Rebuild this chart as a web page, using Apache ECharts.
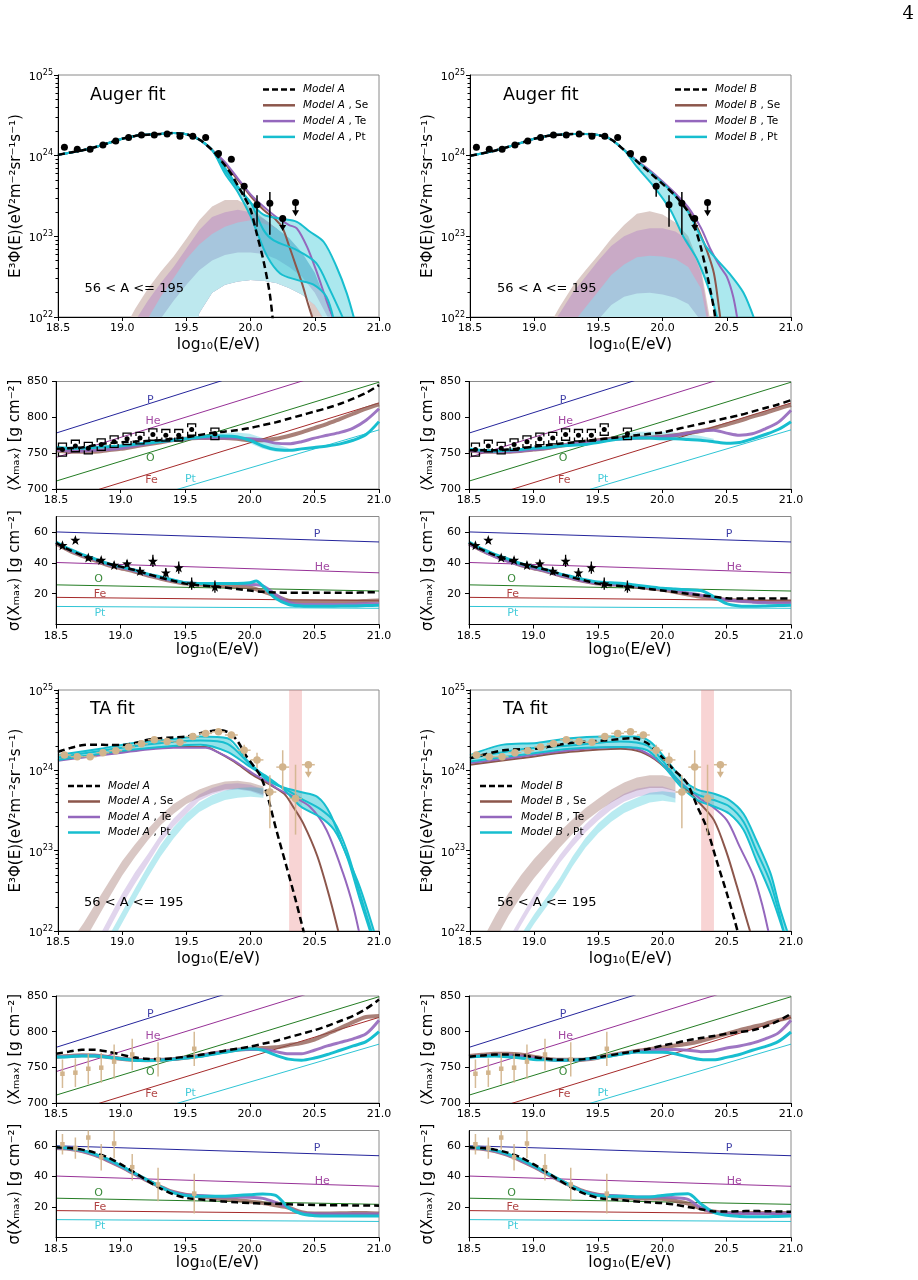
<!DOCTYPE html>
<html><head><meta charset="utf-8">
<script src="https://cdn.jsdelivr.net/npm/echarts@6/dist/echarts.min.js"></script>
<style>html,body{margin:0;padding:0;background:#fff}#c{width:918px;height:1280px}</style>
</head><body><div id="c"></div>
<script>
// ---------------- ticks ----------------
const xTickValues = [18.5,19.0,19.5,20.0,20.5,21.0];
const xTickLabels = ['18.5','19.0','19.5','20.0','20.5','21.0'];
const specTickValues = [1e22,1e23,1e24,1e25];
const specTickExp = ['22','23','24','25'];
const specMinorTicks = [2e22,3e22,4e22,5e22,6e22,7e22,8e22,9e22,2e23,3e23,4e23,5e23,6e23,7e23,8e23,9e23,2e24,3e24,4e24,5e24,6e24,7e24,8e24,9e24];
const xmaxTickValues = [700,750,800,850];
const sigmaTickValues = [20,40,60];

// ---------------- common x grid for Xmax / sigma models ----------------
const XS = [18.5,18.6,18.7,18.8,18.9,19.0,19.1,19.2,19.3,19.4,19.5,19.6,19.7,19.8,19.9,20.0,20.1,20.2,20.3,20.4,20.5,20.6,20.7,20.8,20.9,21.0];

// ---------------- Auger spectrum data (log10 of E^3 Phi) ----------------
const augSpec_x = [18.55,18.65,18.75,18.85,18.95,19.05,19.15,19.25,19.35,19.45,19.55,19.65,19.75,19.85,19.95,20.05,20.15,20.25,20.35];
const augSpec_y = [24.104,24.08,24.08,24.133,24.183,24.224,24.257,24.257,24.27,24.24,24.24,24.224,24.026,23.956,23.62,23.39,23.41,23.22,23.42];
const augSpecErr_x = [19.95,20.05,20.15];
const augSpecErr_lo = [23.49,23.12,23.02];
const augSpecErr_hi = [23.66,23.51,23.55];
const augUL_x = [20.25,20.35];
const augUL_from = [23.22,23.42];
const augUL_to = [23.08,23.26];

// Auger fit, model A spectrum curves
const augX_lo = [18.5,18.6,18.7,18.8,18.9,19.0,19.1,19.2,19.3,19.4,19.5,19.6,19.7];
const augA_common = [24.01,24.04,24.07,24.11,24.16,24.21,24.245,24.26,24.27,24.28,24.265,24.2,24.07];
const augA_dash_x = [19.8,19.85,19.9,19.95,20.0,20.05,20.1,20.15,20.18];
const augA_dash_y = [23.88,23.77,23.63,23.49,23.33,23.02,22.7,22.28,21.85];
const augA_se_x = [19.8,19.9,20.0,20.1,20.2,20.25,20.3,20.35,20.4,20.45,20.5];
const augA_se_y = [23.9,23.7,23.5,23.33,23.2,23.1,22.88,22.65,22.42,22.15,21.9];
const augA_te_x = [19.8,19.9,20.0,20.1,20.2,20.3,20.36,20.44,20.51,20.59,20.66];
const augA_te_y = [23.92,23.72,23.52,23.37,23.24,23.14,23.1,22.87,22.58,22.21,21.9];
const augA_pt1_x = [19.8,19.9,20.0,20.1,20.23,20.36,20.46,20.57,20.67,20.75,20.82];
const augA_pt1_y = [23.85,23.62,23.42,23.27,23.22,23.18,23.06,22.93,22.62,22.29,21.9];
const augA_pt2_x = [19.8,19.9,20.0,20.1,20.18,20.36,20.51,20.62,20.73];
const augA_pt2_y = [23.82,23.6,23.42,23.08,22.95,22.83,22.67,22.33,21.95];
const augA_pt3_x = [19.8,19.9,20.0,20.05,20.13,20.23,20.36,20.49,20.59,20.65];
const augA_pt3_y = [23.78,23.55,23.25,23.05,22.75,22.54,22.46,22.4,22.25,21.95];
// Auger fit, model A mass-group contribution bands
const augA_band_x = [19.0,19.1,19.2,19.3,19.4,19.5,19.6,19.7,19.8,19.9,20.0,20.1,20.2,20.3,20.4,20.5,20.6,20.7];
const augA_band_se = [21.8,22.1,22.35,22.56,22.75,22.97,23.2,23.37,23.45,23.45,23.36,23.22,23.1,22.9,22.55,21.9,21.5,21.5];
const augA_band_te = [21.6,21.95,22.2,22.42,22.62,22.85,23.08,23.24,23.3,23.33,23.3,23.22,23.1,22.92,22.7,22.4,22.0,21.5];
const augA_band_pt = [21.4,21.7,21.98,22.25,22.48,22.72,22.9,23.03,23.12,23.17,23.2,23.16,23.1,22.98,22.8,22.55,22.15,21.6];
const augA_band_lt = [21.2,21.5,21.75,21.98,22.2,22.4,22.58,22.7,22.77,22.8,22.8,22.78,22.72,22.62,22.5,22.3,22.0,21.5];
const augA_band_lo = [21.0,21.0,21.0,21.0,21.0,21.3,22.05,22.3,22.4,22.44,22.46,22.45,22.42,22.36,22.28,22.15,21.9,21.4];

// Auger fit, model B spectrum curves
const augB_common = [24.0,24.03,24.065,24.11,24.16,24.21,24.245,24.26,24.27,24.27,24.255,24.2,24.07];
const augB_dash_x = [19.8,19.9,20.0,20.1,20.2,20.25,20.3,20.35,20.4,20.42];
const augB_dash_y = [23.93,23.79,23.65,23.5,23.3,23.12,22.85,22.5,22.1,21.85];
const augB_se_x = [19.8,19.9,20.0,20.1,20.2,20.29,20.35,20.4,20.44,20.46];
const augB_se_y = [23.93,23.8,23.66,23.52,23.33,23.04,22.8,22.54,22.1,21.85];
const augB_te_x = [19.8,19.9,20.0,20.1,20.2,20.3,20.37,20.45,20.5,20.55,20.59];
const augB_te_y = [23.94,23.82,23.68,23.53,23.36,23.1,22.85,22.62,22.5,22.25,21.9];
const augB_pt1_x = [19.8,19.9,20.0,20.1,20.2,20.28,20.34,20.43,20.52,20.63,20.72];
const augB_pt1_y = [23.93,23.8,23.66,23.5,23.3,23.05,22.87,22.7,22.54,22.3,21.95];
const augB_pt2_x = [19.8,19.93,20.06,20.16,20.27,20.37,20.44];
const augB_pt2_y = [23.86,23.62,23.33,23.0,22.71,22.3,21.9];
const augB_band_x = [19.1,19.2,19.3,19.4,19.5,19.6,19.7,19.8,19.9,20.0,20.1,20.2,20.3,20.4];
const augB_band_se = [21.85,22.13,22.38,22.58,22.77,22.97,23.14,23.28,23.31,23.27,23.17,23.0,22.6,21.7];
const augB_band_te = [21.8,22.05,22.3,22.5,22.7,22.88,23.0,23.07,23.1,23.1,23.06,22.95,22.55,21.6];
const augB_band_pt = [21.5,21.7,21.92,22.12,22.32,22.52,22.65,22.74,22.76,22.75,22.72,22.62,22.35,21.5];
const augB_band_lt = [21.3,21.45,21.6,21.8,21.97,22.15,22.25,22.29,22.3,22.28,22.24,22.16,21.95,21.4];
const augB_band_lo = [21,21,21,21,21,21,21,21,21,21,21,21,21,21];

// ---------------- Auger Xmax / sigma data ----------------
const augXmax_x = [18.55,18.65,18.75,18.85,18.95,19.05,19.15,19.25,19.35,19.45,19.55,19.73];
const augXmax_y = [755,760,757,762,766,770,771,776,775,775,783,777];
const augXmax_stat = [2,2,2,2,2,2,2,2.5,2.5,3,3,3];
const augXmax_sys = [9,8,8,8,8,8,8,8,8,8,8,8];
const augSig_y = [51.4,54.8,43.4,41.8,38.6,39.5,34.7,41.2,33.6,36.9,26.5,24.5];
const augSig_err = [1.8,1.8,1.8,1.8,2,2.2,2.5,4,3,4,4,4];

const xmaxA_dash = [756,757,758,761,764,765,766,767,768,770,772,775,778,780,782,785,789,793,798,803,808,813,819,826,834,845];
const xmaxA_se = [754,752,752,752,754,756,759,762,765,768,770,771,771,771,770,768,768,770,774,779,785,791,798,805,812,818];
const xmaxA_te = [755,753,753,754,755,757,760,763,766,768,770,771,771,771,771,770,768,764,763,766,771,775,779,785,796,812];
const xmaxA_pt = [758,757,757,758,759,760,762,764,766,768,770,772,774,774,773,768,760,755,754,756,758,760,763,768,776,794];
const xmaxA_ptband_x = [19.7,19.8,19.9,20.0,20.1,20.2,20.3];
const xmaxA_ptband_lo = [772,772,770,764,756,752,752];
const xmaxA_ptband_hi = [776,778,779,777,771,763,757];

const xmaxB_dash = [754,754,754,755,757,759,761,763,765,767,769,771,773,775,777,779,783,787,791,795,799,803,808,813,818,824];
const xmaxB_se = [754,752,752,752,753,755,757,760,763,766,768,770,771,772,772,773,775,778,781,785,790,795,801,806,812,817];
const xmaxB_te = [754,752,752,752,753,755,757,760,763,765,767,769,770,771,772,773,775,778,781,782,778,775,777,784,793,810];
const xmaxB_pt = [756,754,753,754,755,757,758,760,761,762,765,768,770,771,771,770,770,769,768,766,764,765,770,776,783,794];
const xmaxB_ptband_x = [19.6,19.7,19.8,19.9,20.0,20.1,20.2,20.3,20.4];
const xmaxB_ptband_lo = [768,770,771,771,770,770,769,768,766];
const xmaxB_ptband_hi = [772,777,780,780,780,779,777,774,770];

const sigA_dash = [53,48.5,45,42,39.5,37.5,35.5,33,30.5,28.5,26.5,25.5,24.8,24,23,22,21.2,20.8,20.5,20.5,20.5,20.5,20.5,20.6,20.8,21];
const sigA_se = [52.5,48,44.5,41.5,38.5,36.5,34.5,32,30,28,26.5,26,25.5,25,24.5,24,21.5,18.5,15.5,15,15,15,15,15,15.2,15.5];
const sigA_te = [53,48.5,45,42,39,37,35,32.5,30.5,28.5,27,26.5,26.5,26.5,26.5,26,25,19.5,14.5,13,13,13,13,13.2,13.5,13.5];
const sigA_pt_x = [18.5,18.6,18.7,18.8,18.9,19.0,19.1,19.2,19.3,19.4,19.5,19.6,19.7,19.8,19.9,20.0,20.05,20.1,20.2,20.3,20.4,20.5,20.6,20.7,20.8,20.9,21.0];
const sigA_pt = [53.5,49,45.5,42.5,39.5,37.5,35.5,33,31,29,27,26.5,26.5,26.5,26.5,27,28.2,25,17,13,12,11.8,11.8,12,12,12.3,12.5];

const sigB_dash = [53,48.5,45,42,39.5,37.5,35.5,33,30.5,28.5,26.5,25.5,24.8,24,23,22,21,20,19,18,17,16.8,16.8,16.8,16.8,16.8];
const sigB_se = [52.5,48,44.5,41.5,38.5,36.5,34.5,32,30,28,26.5,26,25.5,24.5,23.5,22.5,21,19.5,18,17,16,15.5,15.2,15,15,15];
const sigB_te = [52,48,44,41,38.5,36.5,34.5,32,30,28,26.5,26,25.5,25,24,23,22,20.5,19,17.5,16,15,14.5,14.2,14,14];
const sigB_pt = [53.5,49,45.5,42.5,39.5,37.5,35.5,33,31,29,27.5,27,26.5,25.5,24.5,23.5,23,22.5,22,18,13.5,12,11.8,12,12.3,12.5];

// ---------------- TA spectrum data ----------------
const taSpec_x = [18.55,18.65,18.75,18.85,18.95,19.05,19.15,19.25,19.35,19.45,19.55,19.65,19.75,19.85,19.95,20.05,20.15,20.25,20.35,20.45];
const taSpec_y = [24.19,24.17,24.17,24.22,24.245,24.29,24.33,24.38,24.36,24.35,24.42,24.46,24.48,24.44,24.25,24.13,23.73,24.04,23.65,24.07];
const taSpec_lo = [24.17,24.15,24.15,24.2,24.22,24.27,24.31,24.36,24.34,24.32,24.39,24.43,24.45,24.4,24.17,24.03,23.28,23.75,23.2,24.07];
const taSpec_hi = [24.21,24.19,24.19,24.24,24.27,24.31,24.35,24.4,24.38,24.38,24.45,24.49,24.51,24.48,24.32,24.22,23.94,24.25,24.07,24.07];
const taSpec_xerr = 0.05;
const taUL_x = [20.45];
const taUL_from = [24.07];
const taUL_to = [23.92];
const taShade = [20.3, 20.4];

// TA fit, model A
const taA_dash_x = [18.5,18.6,18.7,18.8,18.9,19.0,19.1,19.2,19.3,19.4,19.5,19.6,19.7,19.75,19.8,19.85,19.9,19.97,20.03,20.08,20.13,20.2,20.28,20.35,20.42];
const taA_dash_y = [24.23,24.28,24.315,24.32,24.315,24.315,24.34,24.38,24.4,24.41,24.42,24.46,24.49,24.5,24.49,24.45,24.36,24.17,24.04,23.92,23.69,23.26,22.8,22.39,21.95];
const taA_se_x = [18.5,18.7,18.9,19.0,19.2,19.4,19.6,19.65,19.74,19.87,20.02,20.13,20.26,20.33,20.41,20.52,20.62,20.69];
const taA_se_y = [24.13,24.17,24.21,24.23,24.27,24.29,24.29,24.29,24.23,24.11,23.94,23.84,23.71,23.55,23.34,22.93,22.39,21.95];
const taA_te_x = [18.5,18.7,18.9,19.0,19.2,19.4,19.6,19.65,19.74,19.87,20.02,20.13,20.2,20.31,20.46,20.59,20.72,20.8,20.85];
const taA_te_y = [24.12,24.16,24.2,24.22,24.26,24.28,24.28,24.28,24.23,24.12,23.96,23.86,23.78,23.69,23.55,23.26,22.72,22.3,21.95];
const taA_pt1_x = [18.5,18.83,19.09,19.35,19.61,19.82,19.97,20.1,20.2,20.39,20.52,20.62,20.72,20.85,20.97];
const taA_pt1_y = [24.19,24.27,24.34,24.38,24.42,24.4,24.13,23.94,23.82,23.73,23.67,23.46,23.05,22.55,21.95];
const taA_pt2_x = [18.5,19.09,19.61,19.82,19.99,20.13,20.26,20.39,20.54,20.65,20.75,20.85,20.95];
const taA_pt2_y = [24.16,24.3,24.37,24.33,24.08,23.88,23.78,23.65,23.52,23.36,23.0,22.47,21.95];
const taA_pt3_x = [18.5,19.09,19.61,19.82,19.99,20.13,20.26,20.39,20.54,20.65,20.75,20.85,20.94];
const taA_pt3_y = [24.13,24.26,24.32,24.23,24.05,23.92,23.76,23.55,23.42,23.26,22.93,22.4,21.95];
const taA_rse_x = [18.6,18.7,18.8,18.9,19.0,19.1,19.2,19.3,19.4,19.5,19.6,19.7,19.8,19.9,20.0,20.1];
const taA_rse_hi = [21.87,22.1,22.36,22.62,22.87,23.08,23.27,23.44,23.58,23.68,23.76,23.82,23.86,23.87,23.85,23.8];
const taA_rse_lo = [21.63,21.86,22.14,22.42,22.69,22.92,23.13,23.32,23.46,23.58,23.66,23.72,23.76,23.77,23.75,23.7];
const taA_rte_x = [18.8,18.9,19.0,19.1,19.2,19.3,19.4,19.5,19.6,19.7,19.8,19.9,20.0,20.1];
const taA_rte_hi = [21.87,22.17,22.47,22.73,22.96,23.2,23.4,23.56,23.7,23.78,23.83,23.84,23.82,23.76];
const taA_rte_lo = [21.73,22.03,22.33,22.59,22.84,23.1,23.3,23.46,23.62,23.7,23.75,23.76,23.74,23.68];
const taA_rpt_x = [18.9,19.0,19.1,19.2,19.3,19.4,19.5,19.6,19.7,19.8,19.9,20.0,20.1];
const taA_rpt_hi = [21.95,22.24,22.53,22.81,23.07,23.29,23.46,23.6,23.69,23.75,23.78,23.79,23.78];
const taA_rpt_lo = [21.81,22.1,22.39,22.67,22.93,23.15,23.34,23.48,23.57,23.63,23.66,23.67,23.66];

// TA fit, model B
const taB_dash_x = [18.5,18.76,19.02,19.28,19.54,19.77,19.88,19.98,20.08,20.19,20.27,20.34,20.42,20.5,20.56,20.6];
const taB_dash_y = [24.15,24.25,24.27,24.34,24.37,24.4,24.34,24.19,24.02,23.84,23.55,23.3,22.88,22.47,22.14,21.9];
const taB_se_x = [18.5,18.89,19.28,19.67,19.83,19.98,20.14,20.29,20.4,20.5,20.58,20.64,20.69];
const taB_se_y = [24.07,24.15,24.23,24.27,24.23,24.09,23.84,23.59,23.38,22.97,22.55,22.22,21.95];
const taB_te_x = [18.5,18.89,19.28,19.67,19.83,19.98,20.14,20.29,20.37,20.5,20.6,20.71,20.78,20.83];
const taB_te_y = [24.09,24.17,24.25,24.29,24.25,24.1,23.85,23.65,23.57,23.38,23.05,22.68,22.3,21.95];
const taB_pt1_x = [18.5,18.76,19.02,19.28,19.54,19.77,19.9,20.03,20.16,20.27,20.4,20.52,20.63,20.73,20.84,20.91,20.98];
const taB_pt1_y = [24.19,24.32,24.34,24.4,24.42,24.42,24.36,24.13,23.88,23.76,23.71,23.63,23.46,23.13,22.72,22.3,21.95];
const taB_pt2_x = [18.5,18.89,19.28,19.67,19.88,20.01,20.14,20.27,20.4,20.52,20.63,20.73,20.84,20.95];
const taB_pt2_y = [24.15,24.26,24.31,24.36,24.31,24.1,23.84,23.7,23.63,23.55,23.36,23.0,22.6,21.95];
const taB_pt3_y = [24.11,24.19,24.27,24.29,24.25,24.05,23.8,23.63,23.55,23.46,23.26,22.88,22.47,21.95];
const taB_rse_x = [18.6,18.7,18.8,18.9,19.0,19.1,19.2,19.3,19.4,19.5,19.6,19.7,19.8,19.9,20.0,20.1];
const taB_rse_hi = [21.9,22.2,22.47,22.7,22.9,23.07,23.24,23.39,23.53,23.65,23.76,23.85,23.91,23.94,23.94,23.9];
const taB_rse_lo = [21.6,21.9,22.19,22.44,22.66,22.85,23.04,23.21,23.37,23.49,23.6,23.69,23.75,23.78,23.78,23.74];
const taB_rte_x = [18.8,18.9,19.0,19.1,19.2,19.3,19.4,19.5,19.6,19.7,19.8,19.9,20.0,20.1];
const taB_rte_hi = [21.9,22.18,22.45,22.71,22.95,23.15,23.33,23.48,23.61,23.71,23.77,23.8,23.8,23.75];
const taB_rte_lo = [21.8,22.08,22.35,22.61,22.85,23.05,23.23,23.38,23.51,23.61,23.67,23.7,23.7,23.65];
const taB_rpt_x = [18.9,19.0,19.1,19.2,19.3,19.4,19.5,19.6,19.7,19.8,19.9,20.0,20.1];
const taB_rpt_hi = [21.96,22.21,22.43,22.66,22.93,23.16,23.34,23.48,23.59,23.66,23.72,23.74,23.72];
const taB_rpt_lo = [21.84,22.09,22.31,22.54,22.81,23.04,23.22,23.36,23.47,23.54,23.6,23.62,23.6];

// ---------------- TA Xmax / sigma ----------------
const taXmax_x = [18.55,18.65,18.75,18.85,18.95,19.09,19.29,19.57];
const taXmax_y = [741,742.5,748,749.5,758,768,761,776];
const taXmax_err = [20,20,22,21,24,22,24,24];
const taSig_y = [61,58.5,65.4,52.5,61.5,46,34.7,28.7];
const taSig_err = [6.7,7,8,8.6,9.7,8.7,11,13];

const xmaxTA_A_dash = [769,772,774.5,774.5,772,768,764,762,761.5,762.5,765,767,770,773,776,779,783,787,792,797,802,808,815,822,832,845];
const xmaxTA_A_se = [765,766,767,766.5,764.5,762,760.5,760,760.5,761.5,763.5,766,769,772,774.5,776,777,778,781,784,789,797,805,813.5,820.5,822];
const xmaxTA_A_te = [765,765.5,766.5,766.5,764.5,762,760.5,760,760.5,761.5,763.5,766,769,772,774.5,775,775,772,769,769,774,780,785,790,797,816];
const xmaxTA_A_pt = [764.5,765,766,766,764,762,760,759.5,760,761,763,765,768,771,774,776,774,767,761.5,760,763,768,774,780,786,800];
const xmaxTA_B_dash = [765,766.5,768,768,767,764.5,762,760.5,760.5,761.5,764,767,770,773,776,780.5,784,788,791,794,797,799.5,802,807,815,825];
const xmaxTA_B_se = [766,767.5,769,769,768,765,762,760.5,760.5,761,763.5,767,770,773,775.5,778,780.5,783,787,792,797,802,806.5,811,816,820.5];
const xmaxTA_B_te = [765,766,767,767,765.5,763,761,760,760,761,763.5,766.5,769.5,772,774,775,775,774,772,773,777,780,784,790,798,816];
const xmaxTA_B_pt = [764.5,765.5,766,765,763,761,760.5,760,760,761.5,763.5,766,769,771.5,771,771,769,764.5,761,760.5,764,768,774,779,786,799.5];

const sigTA_A_dash = [59,58.5,57.5,55.5,52.5,48,43,37.5,32.5,28.5,26,25,24.3,23.5,23,22.5,22.2,22,21.7,21.5,21.3,21.2,21.1,21,21,20.8];
const sigTA_A_se = [58.5,58,56.5,54,50.5,46.5,42,37.5,33.5,30,28,27,26,25,24.5,23.5,22.5,21,19.5,16.5,15.7,15.7,15.8,16,16.1,15.7];
const sigTA_A_te = [58.5,58,56.5,54,50.5,46.5,42,37.5,33.5,30,28,27.5,27,26.5,26.5,26.4,25.6,23,19.5,16,15.5,15.3,15.3,15.3,15.3,15.3];
const sigTA_A_pt = [59,58.3,57,54.5,51.2,47,42.5,38,33.5,29.5,27.5,27,27,27,27.5,28,28.5,27.5,19.5,15.5,14.3,14,14,14,14,14];
const sigTA_B_dash = [59,58.5,57.5,55.5,52.5,48,43,37.5,32.5,28.5,26,25,24.3,23.5,23,22.5,21.5,20,18.5,17,17,17.2,17.3,17.2,17,16.8];
const sigTA_B_se = [58.5,58,56.5,54,50.5,46.5,42,37.5,33.5,30,28,27,26,25.5,25.5,25.4,24,22.2,19,17,16.1,16.1,16.1,16.1,16.1,16.1];
const sigTA_B_te = [58.5,58,56.5,54,50.5,46.5,42,37.5,33.5,30,28,27.5,27,26.5,26.5,26.5,26,25,19.5,16.5,16,15.8,15.7,15.7,15.7,15.7];
const sigTA_B_pt = [59,58.3,57,54.5,51.2,47,42.5,38,33.5,29.5,27.5,27,27,26.5,26.5,27.5,28.3,28.6,22,16.5,14.5,13.8,13.5,13.5,13.8,14];

// ---------------- reference mass lines ----------------
const refNames = ['P','He','O','Fe','Pt'];
const refColors = ['#0c0c90','#8b1a8b','#0b6e0b','#9b1212','#17becf'];
const refX = [18.5, 21.0];
const xmaxRef = [[778,920.5],[744,884],[711,849],[681,820],[649.6,782.5]];
const sigRef = [[60,53.5],[40.2,33.5],[25.7,21.7],[17.6,15.4],[11.7,10.5]];
const xmaxRefLabel_x = [19.23,19.25,19.23,19.24,19.54];
const xmaxRefLabel_y = [824,794,743,712,714];
const sigRefLabel_x = [20.52,20.56,18.83,18.84,18.84];
const sigRefLabel_y = [58.5,36.9,29.3,19.6,7.2];

// ======================================================================
const FONT = "DejaVu Sans";
const C = {se:'#8c564b', te:'#9467bd', pt:'#17becf', tan:'#d2b48c'};
const P10 = v => Math.pow(10, v);
const ID = v => v;

const GRIDS = [
 {left:58, top:75, width:321, height:242, kind:'spec'},
 {left:470, top:75, width:321, height:242, kind:'spec'},
 {left:56, top:381.5, width:323, height:107.5, kind:'xmax'},
 {left:469, top:381.5, width:322, height:107.5, kind:'xmax'},
 {left:56, top:516.5, width:323, height:108, kind:'sigma'},
 {left:469, top:516.5, width:322, height:108, kind:'sigma'},
 {left:58, top:690, width:321, height:241, kind:'spec'},
 {left:470, top:690, width:321, height:241, kind:'spec'},
 {left:56, top:996, width:323, height:107, kind:'xmax'},
 {left:469, top:996, width:322, height:107, kind:'xmax'},
 {left:56, top:1130.5, width:323, height:107, kind:'sigma'},
 {left:469, top:1130.5, width:322, height:107, kind:'sigma'}
];

const series = [];
function fOf(gi){ return GRIDS[gi].kind==='spec' ? P10 : ID; }
function anchorOf(gi){ const k=GRIDS[gi].kind; return k==='spec'?[19.5,1e23]:(k==='xmax'?[19.5,775]:[19.5,30]); }

function addLine(gi, xs, ys, style, z, smooth){
  const f=fOf(gi);
  series.push({type:'line', xAxisIndex:gi, yAxisIndex:gi, data:xs.map((x,i)=>[x,f(ys[i])]),
    symbol:'none', smooth: smooth===undefined?0.3:smooth, lineStyle:Object.assign({cap:'butt', join:'round'}, style),
    z:z||3, silent:true, clip:true, animation:false});
}
function addBand(gi, xh, yh, xl, yl, fill, z){
  const f=fOf(gi);
  series.push({type:'custom', coordinateSystem:'cartesian2d', xAxisIndex:gi, yAxisIndex:gi, z:z||1, silent:true, clip:true, animation:false,
    data:[anchorOf(gi)],
    renderItem:(p, api)=>{
      const pts=[];
      for(let i=0;i<xh.length;i++) pts.push(api.coord([xh[i], f(yh[i])]));
      for(let i=xl.length-1;i>=0;i--) pts.push(api.coord([xl[i], f(yl[i])]));
      return {type:'polygon', shape:{points:pts}, style:{fill:fill}};
    }});
}
function addVErr(gi, xs, lo, hi, color, width, z){
  const f=fOf(gi);
  series.push({type:'custom', coordinateSystem:'cartesian2d', xAxisIndex:gi, yAxisIndex:gi, z:z||6, silent:true, clip:true, animation:false,
    data:xs.map((x,i)=>[x,f(lo[i]),f(hi[i])]), encode:{x:0,y:[1,2]},
    renderItem:(p, api)=>{
      const a=api.coord([api.value(0),api.value(1)]), b=api.coord([api.value(0),api.value(2)]);
      return {type:'line', shape:{x1:a[0],y1:a[1],x2:b[0],y2:b[1]}, style:{stroke:color, lineWidth:width}};
    }});
}
function addHErr(gi, xs, ys, dx, color, width, z){
  const f=fOf(gi);
  series.push({type:'custom', coordinateSystem:'cartesian2d', xAxisIndex:gi, yAxisIndex:gi, z:z||6, silent:true, clip:true, animation:false,
    data:xs.map((x,i)=>[x-dx,x+dx,f(ys[i])]), encode:{x:[0,1],y:2},
    renderItem:(p, api)=>{
      const a=api.coord([api.value(0),api.value(2)]), b=api.coord([api.value(1),api.value(2)]);
      return {type:'line', shape:{x1:a[0],y1:a[1],x2:b[0],y2:b[1]}, style:{stroke:color, lineWidth:width}};
    }});
}
function addArrows(gi, xs, from, to, color, z){
  const f=fOf(gi);
  series.push({type:'custom', coordinateSystem:'cartesian2d', xAxisIndex:gi, yAxisIndex:gi, z:z||6, silent:true, clip:true, animation:false,
    data:xs.map((x,i)=>[x,f(from[i]),f(to[i])]), encode:{x:0,y:[1,2]},
    renderItem:(p, api)=>{
      const a=api.coord([api.value(0),api.value(1)]), b=api.coord([api.value(0),api.value(2)]);
      return {type:'group', children:[
        {type:'line', shape:{x1:a[0],y1:a[1],x2:b[0],y2:b[1]-3}, style:{stroke:color, lineWidth:1.5}},
        {type:'polygon', shape:{points:[[b[0]-3.5,b[1]-5],[b[0]+3.5,b[1]-5],[b[0],b[1]+1]]}, style:{fill:color}}
      ]};
    }});
}
function addBrackets(gi, xs, ys, sys, color, z){
  series.push({type:'custom', coordinateSystem:'cartesian2d', xAxisIndex:gi, yAxisIndex:gi, z:z||6, silent:true, clip:true, animation:false,
    data:xs.map((x,i)=>[x, ys[i]+sys[i], ys[i]-sys[i]]), encode:{x:0,y:[1,2]},
    renderItem:(p, api)=>{
      const a=api.coord([api.value(0),api.value(1)]), b=api.coord([api.value(0),api.value(2)]);
      const w=4, t=3.5;
      return {type:'group', children:[
        {type:'polyline', shape:{points:[[a[0]-w,a[1]+t],[a[0]-w,a[1]],[a[0]+w,a[1]],[a[0]+w,a[1]+t]]}, style:{stroke:color, lineWidth:1.3, fill:null}},
        {type:'polyline', shape:{points:[[b[0]-w,b[1]-t],[b[0]-w,b[1]],[b[0]+w,b[1]],[b[0]+w,b[1]-t]]}, style:{stroke:color, lineWidth:1.3, fill:null}}
      ]};
    }});
}
function addScatter(gi, xs, ys, symbol, size, color, z){
  const f=fOf(gi);
  series.push({type:'scatter', xAxisIndex:gi, yAxisIndex:gi, symbol:symbol, symbolSize:size, itemStyle:{color:color, opacity:1},
    data:xs.map((x,i)=>[x,f(ys[i])]), z:z||7, silent:true, animation:false, clip:true});
}
function addRefs(gi, refs, lx, ly){
  refs.forEach((r,k)=>addLine(gi, refX, r, {color:refColors[k], width:1, opacity:0.9}, 2, false));
  series.push({type:'scatter', xAxisIndex:gi, yAxisIndex:gi, symbolSize:2, itemStyle:{color:'rgba(0,0,0,0)'}, z:8, silent:true, animation:false, clip:false,
    data:refNames.map((n,k)=>({name:n, value:[lx[k],ly[k]], label:{show:true, color:refColors[k]}})),
    labelLayout:{hideOverlap:false},
    label:{show:true, position:'inside', formatter:p=>p.name, fontFamily:FONT, fontSize:11}});
}

const dashStyle = {color:'#000', width:2.5, type:[7,4]};
// ---- Auger spectrum panels ----
function augerSpec(gi, common, bands, lines){
  addBand(gi, bands.x, bands.se, bands.x, bands.lo, '#dccbc7', 1);
  addBand(gi, bands.x, bands.te, bands.x, bands.lo, '#c9aac6', 1);
  addBand(gi, bands.x, bands.pt, bands.x, bands.lo, '#a7c6dd', 1);
  addBand(gi, bands.x, bands.lt, bands.x, bands.lo, '#bde8ee', 1);
  const cx = x => augX_lo.concat(x), cy = y => common.concat(y);
  addBand(gi, cx(lines.pt1x), cy(lines.pt1y), cx(lines.pt3x), cy(lines.pt3y), 'rgba(23,190,207,0.36)', 2);
  addLine(gi, cx(lines.sex), cy(lines.sey), {color:C.se, width:2});
  addLine(gi, cx(lines.tex), cy(lines.tey), {color:C.te, width:2});
  addLine(gi, cx(lines.pt1x), cy(lines.pt1y), {color:C.pt, width:2});
  if(lines.pt2x) addLine(gi, cx(lines.pt2x), cy(lines.pt2y), {color:C.pt, width:2});
  addLine(gi, cx(lines.pt3x), cy(lines.pt3y), {color:C.pt, width:2});
  addLine(gi, cx(lines.dx), cy(lines.dy), dashStyle, 4);
  addScatter(gi, augSpec_x, augSpec_y, 'circle', 7, '#000', 7);
  addVErr(gi, augSpecErr_x, augSpecErr_lo, augSpecErr_hi, '#000', 1.5, 6);
  addArrows(gi, augUL_x, augUL_from, augUL_to, '#000', 6);
}
augerSpec(0, augA_common, {x:augA_band_x, se:augA_band_se, te:augA_band_te, pt:augA_band_pt, lt:augA_band_lt, lo:augA_band_lo},
  {dx:augA_dash_x, dy:augA_dash_y, sex:augA_se_x, sey:augA_se_y, tex:augA_te_x, tey:augA_te_y,
   pt1x:augA_pt1_x, pt1y:augA_pt1_y, pt2x:augA_pt2_x, pt2y:augA_pt2_y, pt3x:augA_pt3_x, pt3y:augA_pt3_y});
augerSpec(1, augB_common, {x:augB_band_x, se:augB_band_se, te:augB_band_te, pt:augB_band_pt, lt:augB_band_lt, lo:augB_band_lo},
  {dx:augB_dash_x, dy:augB_dash_y, sex:augB_se_x, sey:augB_se_y, tex:augB_te_x, tey:augB_te_y,
   pt1x:augB_pt1_x, pt1y:augB_pt1_y, pt2x:null, pt2y:null, pt3x:augB_pt2_x, pt3y:augB_pt2_y});

// ---- Xmax / sigma panels ----
function compPanel(gi, refs, lx, ly, d, se, te, pt, ptx, band){
  addRefs(gi, refs, lx, ly);
  if(band) addBand(gi, band.x, band.hi, band.x, band.lo, 'rgba(23,190,207,0.3)', 2);
  addLine(gi, XS, se, {color:C.se, width:4, opacity:0.75});
  addLine(gi, XS, te, {color:C.te, width:3, opacity:0.9});
  addLine(gi, ptx||XS, pt, {color:C.pt, width:3});
  addLine(gi, XS, d, dashStyle, 4);
}
compPanel(2, xmaxRef, xmaxRefLabel_x, xmaxRefLabel_y, xmaxA_dash, xmaxA_se, xmaxA_te, xmaxA_pt, null, {x:xmaxA_ptband_x, hi:xmaxA_ptband_hi, lo:xmaxA_ptband_lo});
compPanel(3, xmaxRef, xmaxRefLabel_x, xmaxRefLabel_y, xmaxB_dash, xmaxB_se, xmaxB_te, xmaxB_pt, null, {x:xmaxB_ptband_x, hi:xmaxB_ptband_hi, lo:xmaxB_ptband_lo});
compPanel(4, sigRef, sigRefLabel_x, sigRefLabel_y, sigA_dash, sigA_se, sigA_te, sigA_pt, sigA_pt_x, null);
compPanel(5, sigRef, sigRefLabel_x, sigRefLabel_y, sigB_dash, sigB_se, sigB_te, sigB_pt, null, null);
[2,3].forEach(gi=>{
  addBrackets(gi, augXmax_x, augXmax_y, augXmax_sys, '#000', 6);
  addVErr(gi, augXmax_x, augXmax_y.map((y,i)=>y-augXmax_stat[i]), augXmax_y.map((y,i)=>y+augXmax_stat[i]), '#000', 1.2, 6);
  addScatter(gi, augXmax_x, augXmax_y, 'circle', 5, '#000', 7);
});
const STAR = 'path://M0,-10L2.35,-3.24L9.51,-3.09L3.8,1.24L5.88,8.09L0,4L-5.88,8.09L-3.8,1.24L-9.51,-3.09L-2.35,-3.24Z';
[4,5].forEach(gi=>{
  addVErr(gi, augXmax_x, augSig_y.map((y,i)=>y-augSig_err[i]), augSig_y.map((y,i)=>y+augSig_err[i]), '#000', 1.3, 6);
  addScatter(gi, augXmax_x, augSig_y, STAR, 10, '#000', 7);
});

// ---- TA spectrum panels ----
function taSpec(gi, r, L){
  addBand(gi, r.sex, r.sehi, r.sex, r.selo, 'rgba(140,86,75,0.33)', 1);
  addBand(gi, r.tex, r.tehi, r.tex, r.telo, 'rgba(148,103,189,0.28)', 1);
  addBand(gi, r.ptx, r.pthi, r.ptx, r.ptlo, 'rgba(23,190,207,0.3)', 1);
  addBand(gi, [taShade[0],taShade[1]], [26,26], [taShade[0],taShade[1]], [21,21], 'rgba(232,120,120,0.32)', 1);
  addBand(gi, L.pt1x, L.pt1y, L.pt3x, L.pt3y, 'rgba(23,190,207,0.45)', 2);
  addLine(gi, L.sex, L.sey, {color:C.se, width:2});
  addLine(gi, L.tex, L.tey, {color:C.te, width:2});
  addLine(gi, L.pt1x, L.pt1y, {color:C.pt, width:2});
  addLine(gi, L.pt2x, L.pt2y, {color:C.pt, width:2});
  addLine(gi, L.pt3x, L.pt3y, {color:C.pt, width:2});
  addLine(gi, L.dx, L.dy, dashStyle, 4);
  addHErr(gi, taSpec_x, taSpec_y, taSpec_xerr, 'rgba(210,180,140,0.9)', 1.5, 6);
  addVErr(gi, taSpec_x, taSpec_lo, taSpec_hi, 'rgba(210,180,140,0.9)', 1.5, 6);
  addArrows(gi, taUL_x, taUL_from, taUL_to, C.tan, 6);
  addScatter(gi, taSpec_x, taSpec_y, 'circle', 7.5, C.tan, 7);
}
taSpec(6, {sex:taA_rse_x, sehi:taA_rse_hi, selo:taA_rse_lo, tex:taA_rte_x, tehi:taA_rte_hi, telo:taA_rte_lo, ptx:taA_rpt_x, pthi:taA_rpt_hi, ptlo:taA_rpt_lo},
  {dx:taA_dash_x, dy:taA_dash_y, sex:taA_se_x, sey:taA_se_y, tex:taA_te_x, tey:taA_te_y, pt1x:taA_pt1_x, pt1y:taA_pt1_y, pt2x:taA_pt2_x, pt2y:taA_pt2_y, pt3x:taA_pt3_x, pt3y:taA_pt3_y});
taSpec(7, {sex:taB_rse_x, sehi:taB_rse_hi, selo:taB_rse_lo, tex:taB_rte_x, tehi:taB_rte_hi, telo:taB_rte_lo, ptx:taB_rpt_x, pthi:taB_rpt_hi, ptlo:taB_rpt_lo},
  {dx:taB_dash_x, dy:taB_dash_y, sex:taB_se_x, sey:taB_se_y, tex:taB_te_x, tey:taB_te_y, pt1x:taB_pt1_x, pt1y:taB_pt1_y, pt2x:taB_pt2_x, pt2y:taB_pt2_y, pt3x:taB_pt2_x, pt3y:taB_pt3_y});

compPanel(8, xmaxRef, xmaxRefLabel_x, xmaxRefLabel_y, xmaxTA_A_dash, xmaxTA_A_se, xmaxTA_A_te, xmaxTA_A_pt, null, null);
compPanel(9, xmaxRef, xmaxRefLabel_x, xmaxRefLabel_y, xmaxTA_B_dash, xmaxTA_B_se, xmaxTA_B_te, xmaxTA_B_pt, null, null);
compPanel(10, sigRef, sigRefLabel_x, sigRefLabel_y, sigTA_A_dash, sigTA_A_se, sigTA_A_te, sigTA_A_pt, null, null);
compPanel(11, sigRef, sigRefLabel_x, sigRefLabel_y, sigTA_B_dash, sigTA_B_se, sigTA_B_te, sigTA_B_pt, null, null);
[8,9].forEach(gi=>{
  addVErr(gi, taXmax_x, taXmax_y.map((y,i)=>y-taXmax_err[i]), taXmax_y.map((y,i)=>y+taXmax_err[i]), 'rgba(210,180,140,0.9)', 1.5, 6);
  addScatter(gi, taXmax_x, taXmax_y, 'rect', 4.5, C.tan, 7);
});
[10,11].forEach(gi=>{
  addVErr(gi, taXmax_x, taSig_y.map((y,i)=>y-taSig_err[i]), taSig_y.map((y,i)=>y+taSig_err[i]), 'rgba(210,180,140,0.9)', 1.5, 6);
  addScatter(gi, taXmax_x, taSig_y, 'rect', 4.5, C.tan, 7);
});

// ---------------- axes ----------------
const axisTxt = {fontFamily:FONT, fontSize:11, color:'#000'};
const xAxes = GRIDS.map((g,i)=>({
  type:'value', gridIndex:i, min:18.5, max:21, interval:0.5, z:10,
  axisLine:{show:true, onZero:false, lineStyle:{color:'#000', width:1}},
  axisTick:{show:true, length:4, lineStyle:{color:'#000'}, customValues:xTickValues},
  axisLabel:Object.assign({margin:6, customValues:xTickValues, showMinLabel:true, showMaxLabel:true,
    formatter:v=>{const k=xTickValues.findIndex(t=>Math.abs(t-v)<1e-6); return k<0?'':xTickLabels[k];}}, axisTxt),
  splitLine:{show:false},
  name: g.kind==='xmax' ? '' : 'log₁₀(E/eV)', nameLocation:'middle', nameGap:g.kind==='spec'?20:17,
  nameTextStyle:{fontFamily:FONT, fontSize:15.5, color:'#000', verticalAlign:'top'}
}));
const yAxes = GRIDS.map((g,i)=>{
  const base = {gridIndex:i, z:10, position:'left',
    axisLine:{show:true, onZero:false, lineStyle:{color:'#000', width:1}},
    splitLine:{show:false}, nameLocation:'middle', nameRotate:90,
    nameTextStyle:{fontFamily:FONT, fontSize:15, color:'#000'}};
  if(g.kind==='spec') return Object.assign(base, {type:'log', logBase:10, min:1e22, max:1e25,
    axisTick:{show:true, length:4, lineStyle:{color:'#000'}, customValues:specTickValues},
    axisLabel:{margin:5, customValues:specTickValues,
      formatter:v=>{const k=Math.round(Math.log10(v))-22; return specTickExp[k]?'{b|10}{s|'+specTickExp[k]+'}':'';},
      rich:{b:{fontFamily:FONT, fontSize:11, color:'#000', padding:[4,0,0,0]}, s:{fontFamily:FONT, fontSize:8, color:'#000', verticalAlign:'top', padding:[1,0,0,0]}}},
    minorTick:{show:false}, name:'E³Φ(E)(eV²m⁻²sr⁻¹s⁻¹)', nameGap:34});
  if(g.kind==='xmax') return Object.assign(base, {type:'value', min:700, max:850, interval:50,
    axisTick:{show:true, length:4, lineStyle:{color:'#000'}, customValues:xmaxTickValues},
    axisLabel:Object.assign({margin:8, customValues:xmaxTickValues}, axisTxt),
    name:'⟨Xₘₐₓ⟩ [g cm⁻²]', nameGap:33});
  return Object.assign(base, {type:'value', min:0, max:70, interval:20,
    axisTick:{show:true, length:4, lineStyle:{color:'#000'}, customValues:sigmaTickValues},
    axisLabel:Object.assign({margin:8, customValues:sigmaTickValues, formatter:v=>(v>0&&v<70)?String(v):''}, axisTxt),
    name:'σ(Xₘₐₓ) [g cm⁻²]', nameGap:33});
});
// minor log ticks
[0,1,6,7].forEach(gi=>{
  yAxes.push({type:'log', logBase:10, gridIndex:gi, min:1e22, max:1e25, position:'left', z:10,
    axisLine:{show:false}, axisLabel:{show:false}, splitLine:{show:false},
    axisTick:{show:true, length:2.5, lineStyle:{color:'#000'}, customValues:specMinorTicks}});
});

// ---------------- graphics: legends & annotations ----------------
const graphic = [];
function legend(x0, x1, xt, ys, model){
  const styles = [{stroke:'#000', lineWidth:2.5, lineDash:[6,3]}, {stroke:C.se, lineWidth:2.5}, {stroke:C.te, lineWidth:2.5}, {stroke:C.pt, lineWidth:2.5}];
  const suf = ['', ' , Se', ' , Te', ' , Pt'];
  ys.forEach((y,k)=>{
    graphic.push({type:'line', shape:{x1:x0,y1:y,x2:x1,y2:y}, style:styles[k], z:100});
    graphic.push({type:'text', x:xt, y:y, z:100, style:{text:'{i|'+model+'}'+(suf[k]?'{n|'+suf[k]+'}':''),
      rich:{i:{fontStyle:'italic', fontFamily:FONT, fontSize:10.5, fill:'#000'}, n:{fontFamily:FONT, fontSize:10.5, fill:'#000'}},
      fontFamily:FONT, fontSize:10.5, verticalAlign:'middle', align:'left'}});
  });
}
legend(263, 295, 303, [89.5,105.3,121.1,136.9], 'Model A');
legend(675, 707, 715, [89.5,105.3,121.1,136.9], 'Model B');
legend(68, 100, 108, [786,801.5,817,832.5], 'Model A');
legend(480, 512, 521, [786,801.5,817,832.5], 'Model B');
function txt(x, y, s, size, family){
  graphic.push({type:'text', x, y, z:100, style:{text:s, fontFamily:family||FONT, fontSize:size, fill:'#000', verticalAlign:'top', align:'left'}});
}
txt(90, 86, 'Auger fit', 17.5); txt(503, 86, 'Auger fit', 17.5);
txt(90, 700.5, 'TA fit', 17.5); txt(503, 700.5, 'TA fit', 17.5);
txt(84.5, 282, '56 < A <= 195', 13); txt(497, 282, '56 < A <= 195', 13);
txt(84, 896.5, '56 < A <= 195', 13); txt(497, 896.5, '56 < A <= 195', 13);
txt(902.5, 5.5, '4', 18, 'DejaVu Serif');

const chart = echarts.init(document.getElementById('c'), null, {renderer:'canvas'});
chart.setOption({
  animation:false,
  backgroundColor:'#fff',
  grid: GRIDS.map(g=>({left:g.left, top:g.top, width:g.width, height:g.height, show:true, borderColor:'#8a8a8a', borderWidth:1, backgroundColor:'transparent', containLabel:false, outerBoundsMode:'none'})),
  xAxis: xAxes,
  yAxis: yAxes,
  series: series,
  graphic: graphic
});
</script></body></html>
